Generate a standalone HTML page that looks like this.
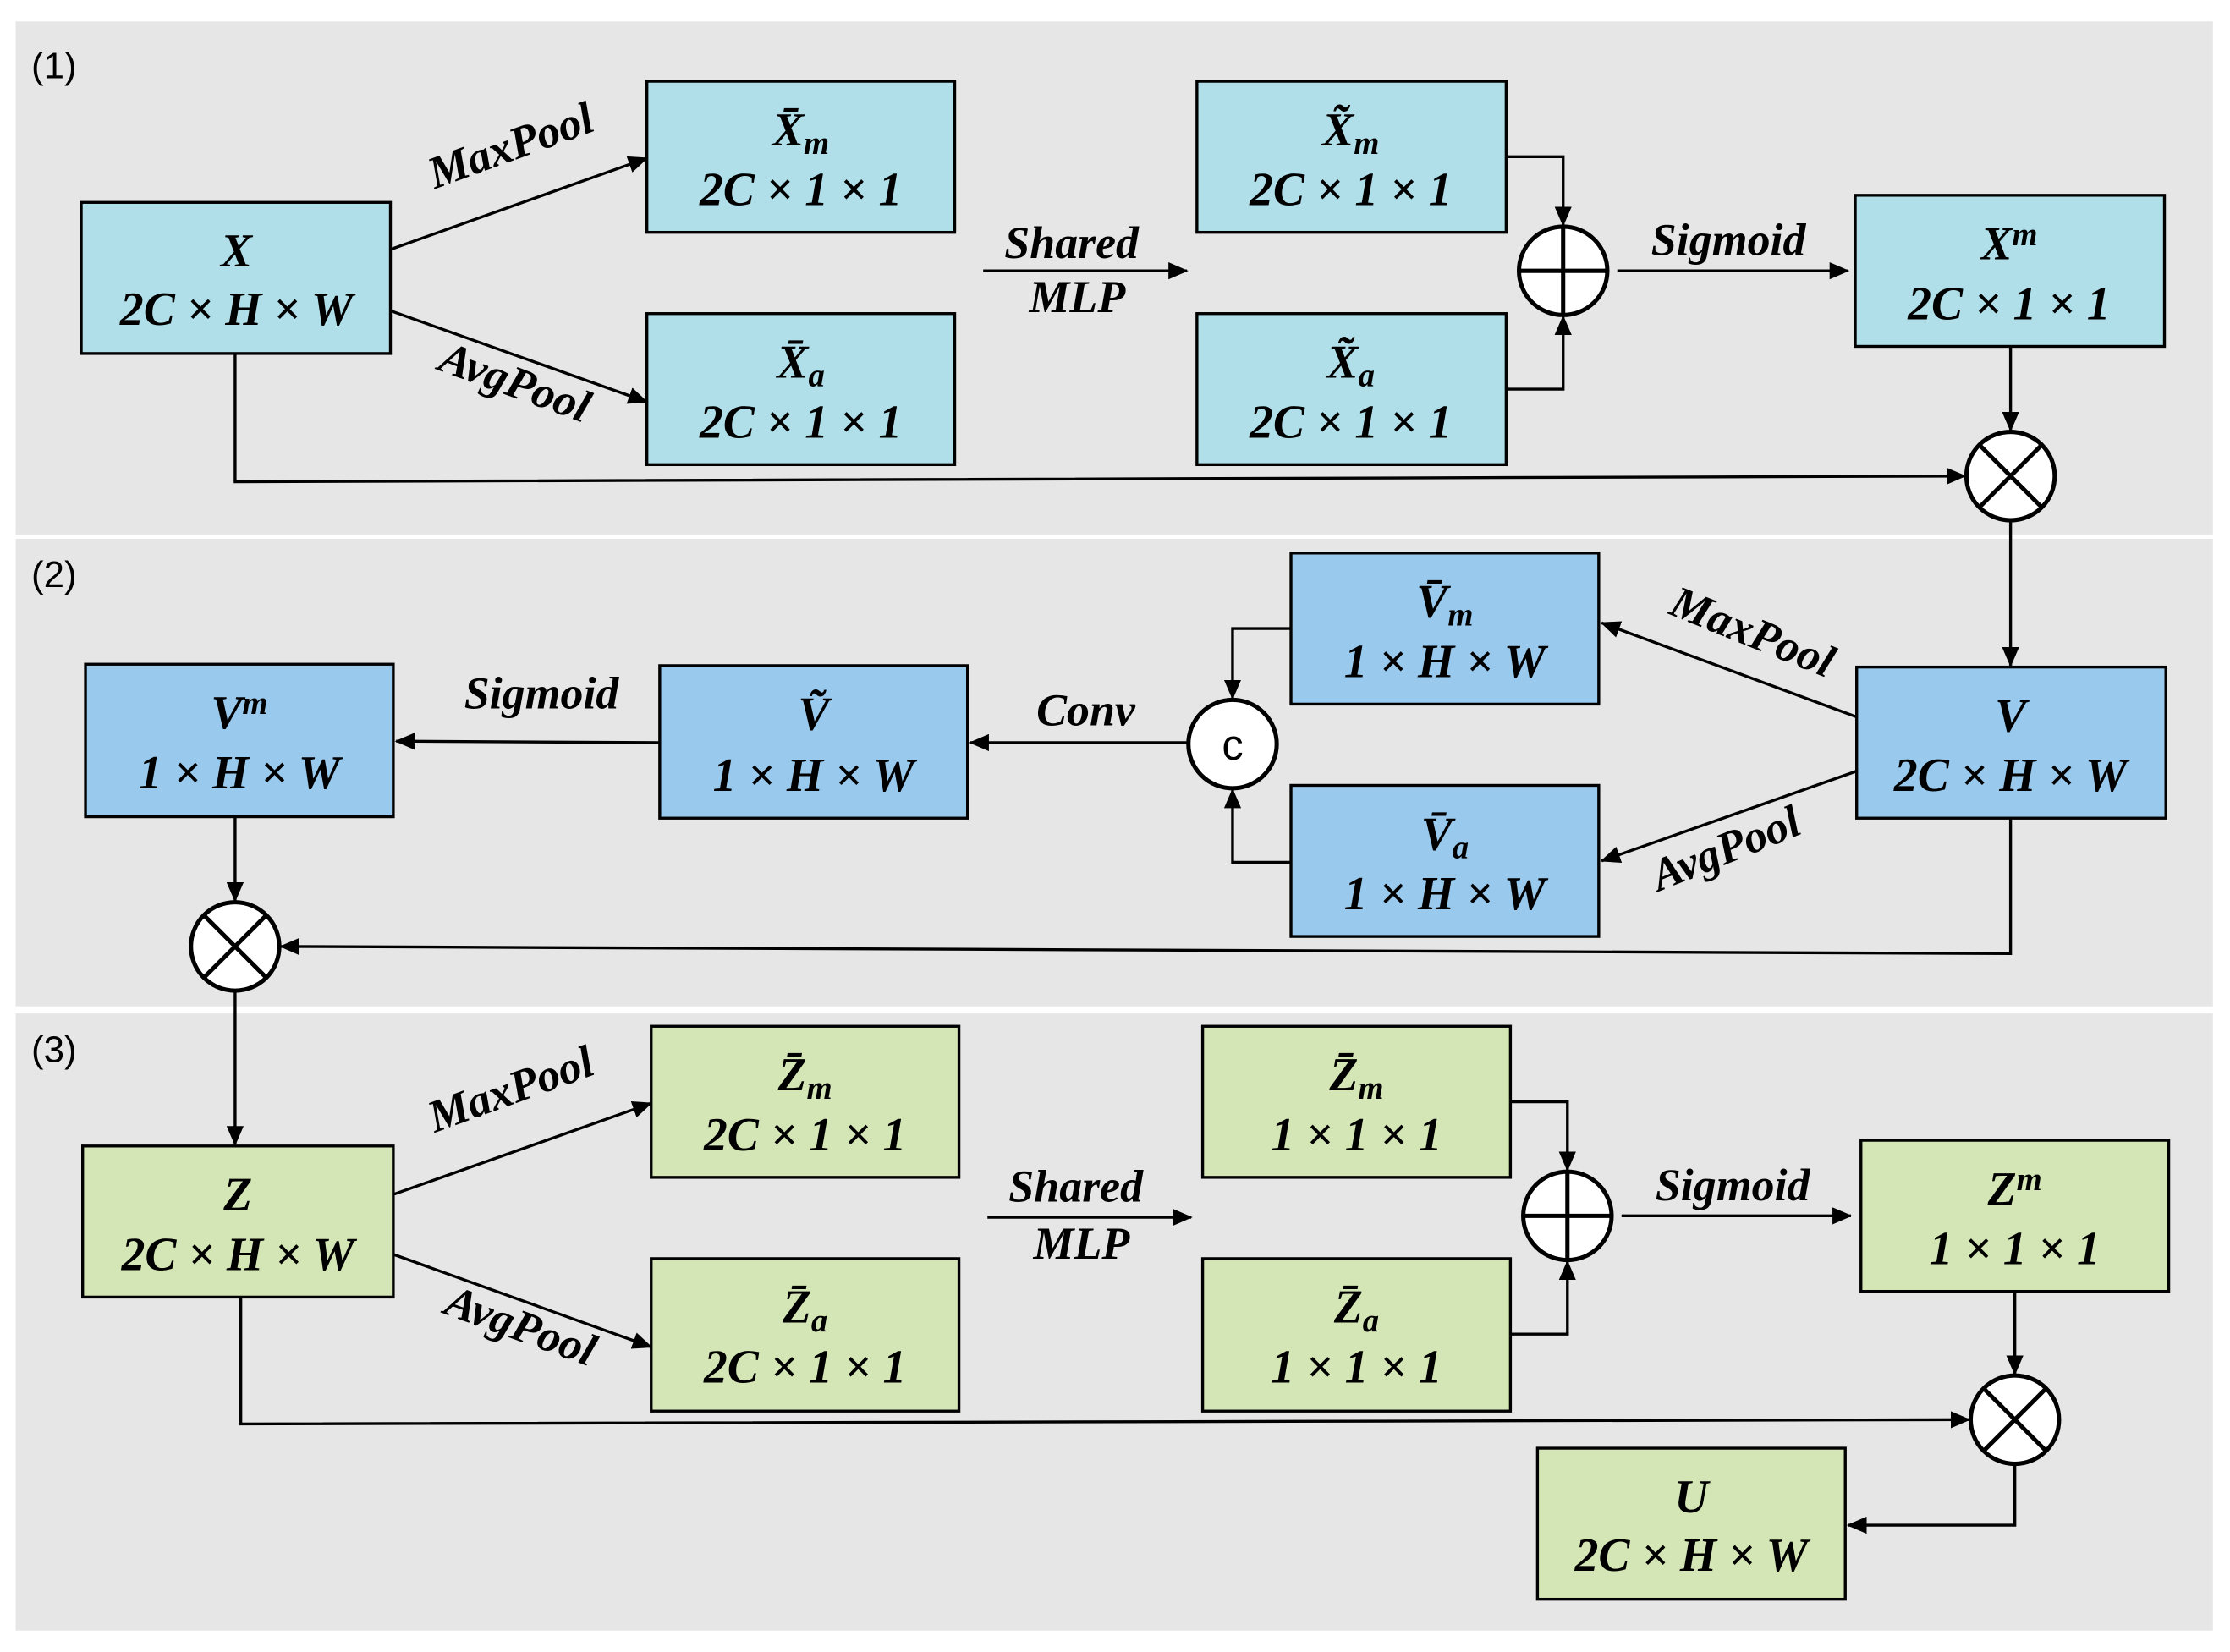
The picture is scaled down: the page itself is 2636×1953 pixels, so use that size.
<!DOCTYPE html>
<html><head><meta charset="utf-8"><style>
html,body{margin:0;padding:0;background:#fff;}
svg{display:block;}
text{font-family:"Liberation Serif",serif;font-style:italic;font-weight:bold;fill:#000;}
.n{font-family:"Liberation Sans",sans-serif;font-style:normal;font-weight:normal;}
</style></head><body>
<svg width="2636" height="1953" viewBox="0 0 1565 1159" preserveAspectRatio="none" xmlns="http://www.w3.org/2000/svg">
<defs>
<marker id="b" markerWidth="14" markerHeight="12" refX="13" refY="6" orient="auto" markerUnits="userSpaceOnUse"><path d="M0,0 L14,6 L0,12 z" fill="#000"/></marker></defs>
<rect x="11" y="15" width="1542" height="360" fill="#e6e6e6"/>
<rect x="11" y="378" width="1542" height="328" fill="#e6e6e6"/>
<rect x="11" y="711" width="1542" height="433" fill="#e6e6e6"/>
<text class="n" x="22" y="55" font-size="26">(1)</text>
<text class="n" x="22" y="412" font-size="26">(2)</text>
<text class="n" x="22" y="745" font-size="26">(3)</text>
<g stroke="#000" stroke-width="2">
<rect x="57" y="142" width="217" height="106" fill="#b0dfe9"/>
<rect x="454" y="57" width="216" height="106" fill="#b0dfe9"/>
<rect x="454" y="220" width="216" height="106" fill="#b0dfe9"/>
<rect x="840" y="57" width="217" height="106" fill="#b0dfe9"/>
<rect x="840" y="220" width="217" height="106" fill="#b0dfe9"/>
<rect x="1302" y="137" width="217" height="106" fill="#b0dfe9"/>
<rect x="1303" y="468" width="217" height="106" fill="#99c9ec"/>
<rect x="906" y="388" width="216" height="106" fill="#99c9ec"/>
<rect x="906" y="551" width="216" height="106" fill="#99c9ec"/>
<rect x="463" y="467" width="216" height="107" fill="#99c9ec"/>
<rect x="60" y="466" width="216" height="107" fill="#99c9ec"/>
<rect x="58" y="804" width="218" height="106" fill="#d4e6b5"/>
<rect x="457" y="720" width="216" height="106" fill="#d4e6b5"/>
<rect x="457" y="883" width="216" height="107" fill="#d4e6b5"/>
<rect x="844" y="720" width="216" height="106" fill="#d4e6b5"/>
<rect x="844" y="883" width="216" height="107" fill="#d4e6b5"/>
<rect x="1306" y="800" width="216" height="106" fill="#d4e6b5"/>
<rect x="1079" y="1016" width="216" height="106" fill="#d4e6b5"/>
</g>
<g stroke="#000" stroke-width="2" fill="none">
<line x1="274" y1="175" x2="454" y2="111" marker-end="url(#b)"/>
<line x1="274" y1="218" x2="454" y2="282" marker-end="url(#b)"/>
<line x1="690" y1="190" x2="833" y2="190" marker-end="url(#b)"/>
<polyline points="1057,110 1097,110 1097,158" marker-end="url(#b)"/>
<polyline points="1057,273 1097,273 1097,222" marker-end="url(#b)"/>
<line x1="1135" y1="190" x2="1297" y2="190" marker-end="url(#b)"/>
<line x1="1411" y1="243" x2="1411" y2="302" marker-end="url(#b)"/>
<polyline points="165,248 165,338 1379,334" marker-end="url(#b)"/>
<line x1="1411" y1="365" x2="1411" y2="467" marker-end="url(#b)"/>
<line x1="1303" y1="503" x2="1124" y2="437" marker-end="url(#b)"/>
<line x1="1303" y1="541" x2="1124" y2="604" marker-end="url(#b)"/>
<polyline points="906,441 865,441 865,490" marker-end="url(#b)"/>
<polyline points="906,605 865,605 865,554" marker-end="url(#b)"/>
<line x1="834" y1="521" x2="681" y2="521" marker-end="url(#b)"/>
<line x1="463" y1="521" x2="278" y2="520" marker-end="url(#b)"/>
<line x1="165" y1="573" x2="165" y2="632" marker-end="url(#b)"/>
<polyline points="1411,574 1411,669 197,664" marker-end="url(#b)"/>
<line x1="165" y1="695" x2="165" y2="803" marker-end="url(#b)"/>
<line x1="276" y1="838" x2="457" y2="774" marker-end="url(#b)"/>
<line x1="276" y1="880" x2="457" y2="945" marker-end="url(#b)"/>
<line x1="693" y1="854" x2="836" y2="854" marker-end="url(#b)"/>
<polyline points="1060,773 1100,773 1100,821" marker-end="url(#b)"/>
<polyline points="1060,936 1100,936 1100,885" marker-end="url(#b)"/>
<line x1="1138" y1="853" x2="1299" y2="853" marker-end="url(#b)"/>
<line x1="1414" y1="906" x2="1414" y2="964" marker-end="url(#b)"/>
<polyline points="169,910 169,999 1382,996" marker-end="url(#b)"/>
<polyline points="1414,1027 1414,1070 1297,1070" marker-end="url(#b)"/>
</g>
<g stroke="#000" stroke-width="3" fill="#fff">
<circle cx="1097" cy="190" r="31"/><line x1="1066" y1="190" x2="1128" y2="190"/><line x1="1097" y1="159" x2="1097" y2="221"/>
<circle cx="1100" cy="853" r="31"/><line x1="1069" y1="853" x2="1131" y2="853"/><line x1="1100" y1="822" x2="1100" y2="884"/>
<circle cx="1411" cy="334" r="31"/><line x1="1389" y1="312" x2="1433" y2="356"/><line x1="1433" y1="312" x2="1389" y2="356"/>
<circle cx="165" cy="664" r="31"/><line x1="143" y1="642" x2="187" y2="686"/><line x1="187" y1="642" x2="143" y2="686"/>
<circle cx="1414" cy="996" r="31"/><line x1="1392" y1="974" x2="1436" y2="1018"/><line x1="1436" y1="974" x2="1392" y2="1018"/>
<circle cx="865" cy="522" r="31"/>
</g>
<text class="n" x="865" y="533" font-size="30" text-anchor="middle">c</text>
<g font-size="33" text-anchor="middle">
<text x="166" y="187">X</text><text x="166" y="228">2C × H × W</text>
<text x="562" y="102">X̄<tspan font-size="23" dy="6">m</tspan></text><text x="562" y="144">2C × 1 × 1</text>
<text x="562" y="265">X̄<tspan font-size="23" dy="6">a</tspan></text><text x="562" y="307">2C × 1 × 1</text>
<text x="948" y="102">X̃<tspan font-size="23" dy="6">m</tspan></text><text x="948" y="144">2C × 1 × 1</text>
<text x="948" y="265">X̃<tspan font-size="23" dy="6">a</tspan></text><text x="948" y="307">2C × 1 × 1</text>
<text x="1410" y="182">X<tspan font-size="23" dy="-10">m</tspan></text><text x="1410" y="224">2C × 1 × 1</text>
<text x="1411" y="513">V</text><text x="1411" y="555">2C × H × W</text>
<text x="1014" y="433">V̄<tspan font-size="23" dy="6">m</tspan></text><text x="1014" y="475">1 × H × W</text>
<text x="1014" y="596">V̄<tspan font-size="23" dy="6">a</tspan></text><text x="1014" y="638">1 × H × W</text>
<text x="571" y="512">Ṽ</text><text x="571" y="555">1 × H × W</text>
<text x="168" y="511">V<tspan font-size="23" dy="-10">m</tspan></text><text x="168" y="553">1 × H × W</text>
<text x="167" y="849">Z</text><text x="167" y="891">2C × H × W</text>
<text x="565" y="765">Z̄<tspan font-size="23" dy="6">m</tspan></text><text x="565" y="807">2C × 1 × 1</text>
<text x="565" y="928">Z̄<tspan font-size="23" dy="6">a</tspan></text><text x="565" y="970">2C × 1 × 1</text>
<text x="952" y="765">Z̄<tspan font-size="23" dy="6">m</tspan></text><text x="952" y="807">1 × 1 × 1</text>
<text x="952" y="928">Z̄<tspan font-size="23" dy="6">a</tspan></text><text x="952" y="970">1 × 1 × 1</text>
<text x="1414" y="845">Z<tspan font-size="23" dy="-10">m</tspan></text><text x="1414" y="887">1 × 1 × 1</text>
<text x="1187" y="1061">U</text><text x="1187" y="1102">2C × H × W</text>
</g>
<g font-size="32">
<text x="362" y="112" text-anchor="middle" transform="rotate(-20 362 112)">MaxPool</text>
<text x="358" y="278" text-anchor="middle" transform="rotate(20 358 278)">AvgPool</text>
<text x="752" y="181" text-anchor="middle">Shared</text>
<text x="756" y="219" text-anchor="middle">MLP</text>
<text x="1213" y="179" text-anchor="middle">Sigmoid</text>
<text x="1226" y="453" text-anchor="middle" transform="rotate(22 1226 453)">MaxPool</text>
<text x="1215" y="605" text-anchor="middle" transform="rotate(-22 1215 605)">AvgPool</text>
<text x="762" y="509" text-anchor="middle">Conv</text>
<text x="380" y="497" text-anchor="middle">Sigmoid</text>
<text x="362" y="774" text-anchor="middle" transform="rotate(-20 362 774)">MaxPool</text>
<text x="362" y="940" text-anchor="middle" transform="rotate(20 362 940)">AvgPool</text>
<text x="755" y="843" text-anchor="middle">Shared</text>
<text x="759" y="883" text-anchor="middle">MLP</text>
<text x="1216" y="842" text-anchor="middle">Sigmoid</text>
</g>
</svg>
</body></html>
